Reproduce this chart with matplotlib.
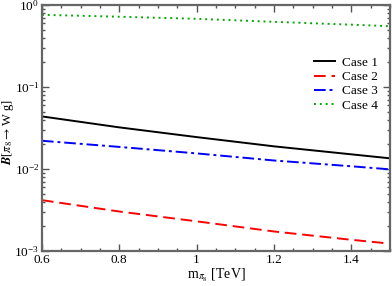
import matplotlib
matplotlib.use("Agg")
import matplotlib.pyplot as plt
from matplotlib.ticker import MultipleLocator, LogLocator, NullFormatter

plt.rcParams['font.family'] = ['Liberation Serif', 'DejaVu Serif']
plt.rcParams['mathtext.fontset'] = 'stix'

mass = [0.6, 0.8, 1.0, 1.2, 1.4, 1.5]
case1 = [0.0438, 0.0322, 0.0245, 0.0189, 0.0151, 0.0135]
case2 = [0.00417, 0.00303, 0.00230, 0.00173, 0.00137, 0.00123]
case3 = [0.0221, 0.0186, 0.0155, 0.0127, 0.0108, 0.0099]
case4 = [0.76, 0.72, 0.679, 0.624, 0.576, 0.552]
labels = ['Case 1', 'Case 2', 'Case 3', 'Case 4']

fig = plt.figure(figsize=(3.92, 2.86), dpi=100)
ax = fig.add_axes([0.107, 0.1224, 0.888, 0.860])

ax.plot(mass, case1, color='black', lw=1.4, ls='-', label=labels[0])
ax.plot(mass, case2, color='#ff0000', lw=1.4, ls=(0, (6, 3)), label=labels[1])
ax.plot(mass, case3, color='#0000ff', lw=1.4, ls=(0, (6, 2, 1.5, 2)), label=labels[2])
ax.plot(mass, case4, color='#00aa00', lw=1.4, ls=(0, (1, 2)), label=labels[3])

ax.set_yscale('log')
ax.set_xlim(0.6, 1.5)
ax.set_ylim(1e-3, 1)
ax.xaxis.set_minor_locator(MultipleLocator(0.05))
ax.set_xticks([0.6, 0.8, 1.0, 1.2, 1.4])
ax.set_xticklabels(['0.6', '0.8', '1', '1.2', '1.4'])
ax.yaxis.set_major_locator(LogLocator(base=10, numticks=10))
ax.yaxis.set_minor_locator(LogLocator(base=10, subs=range(2, 10), numticks=10))
ax.yaxis.set_minor_formatter(NullFormatter())

ax.tick_params(which='both', direction='in', top=True, right=True, labelsize=9.5, color='#555555', pad=2)
ax.tick_params(which='major', length=5, width=1)
ax.tick_params(which='minor', length=2.5, width=1)
for s in ax.spines.values():
    s.set_color('#666666')
    s.set_linewidth(1.6)

ax.set_xlabel(r'm$_{\pi_8}$ [TeV]', fontsize=10, labelpad=1)
ax.set_ylabel(r'$\mathbfit{B}$[$\pi_8 \rightarrow $W g]', fontsize=9)
ax.yaxis.set_label_coords(-0.075, 0.484)

ax.legend(loc='upper right', bbox_to_anchor=(0.965, 0.79), frameon=False, fontsize=9.5,
          handlelength=1.6, handletextpad=0.5, labelspacing=0.15,
          borderaxespad=0, borderpad=0)

fig.savefig('out.png', dpi=100)
